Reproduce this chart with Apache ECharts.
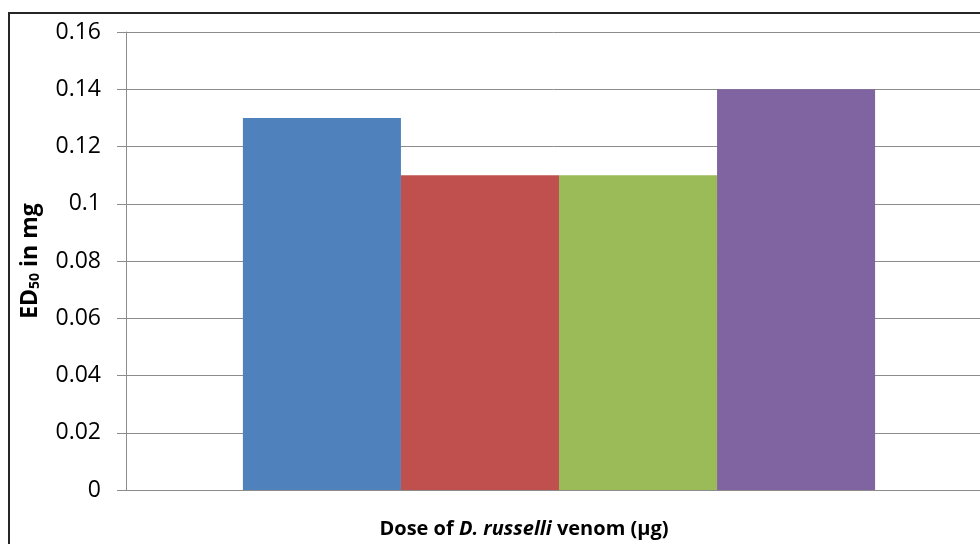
<!DOCTYPE html>
<html>
<head>
<meta charset="utf-8">
<script src="https://cdn.jsdelivr.net/npm/echarts@6/dist/echarts.min.js"></script>
<style>
  html, body { margin: 0; padding: 0; background: #fff; }
  #chart { width: 980px; height: 544px; }
</style>
</head>
<body>
<div id="chart"></div>
<script>
// ED50 values for each venom dose group
const categories = ['ED50'];
const seriesNames = ['Dose 1', 'Dose 2', 'Dose 3', 'Dose 4'];
const seriesValues = [0.13, 0.11, 0.11, 0.14];
const seriesColors = ['#4F81BD', '#C0504D', '#9BBB59', '#8064A2'];
const yTicks = { min: 0, max: 0.16, interval: 0.02 };

const font = '"Open Sans", "Noto Sans", sans-serif';
const chart = echarts.init(document.getElementById('chart'), null, { renderer: 'canvas' });

chart.setOption({
  backgroundColor: '#ffffff',
  animation: false,
  graphic: [{
    type: 'rect',
    shape: { x: 9, y: 13, width: 1000, height: 600 },
    style: { fill: 'none', stroke: '#262626', lineWidth: 2 },
    z: -1
  }],
  grid: { left: 126, top: 32, width: 866, height: 458, containLabel: false, outerBoundsMode: 'none' },
  xAxis: {
    type: 'category',
    data: categories,
    axisLabel: { show: false },
    axisTick: { show: false },
    axisLine: { lineStyle: { color: '#8c8c8c', width: 1 } },
    name: '{b|Dose of }{i|D. russelli}{b| venom (µg)}',
    nameLocation: 'middle',
    nameGap: 29,
    nameTextStyle: {
      padding: [0, 70, 0, 0],
      rich: {
        b: { fontFamily: font, fontSize: 20, fontWeight: 'bold', color: '#000' },
        i: { fontFamily: font, fontSize: 20, fontWeight: 'bold', fontStyle: 'italic', color: '#000' }
      }
    }
  },
  yAxis: {
    type: 'value',
    min: yTicks.min,
    max: yTicks.max,
    interval: yTicks.interval,
    axisLine: { show: true, lineStyle: { color: '#8c8c8c', width: 1 } },
    axisTick: { show: true, length: 9, lineStyle: { color: '#8c8c8c' } },
    axisLabel: { fontFamily: font, fontSize: 23, color: '#000', margin: 25 },
    splitLine: { lineStyle: { color: '#8c8c8c', width: 1 } },
    name: '{b|ED}{s|50}{b| in mg}',
    nameLocation: 'middle',
    nameGap: 84,
    nameRotate: 90,
    nameTextStyle: {
      rich: {
        b: { fontFamily: font, fontSize: 23, fontWeight: 'bold', color: '#000' },
        s: { fontFamily: font, fontSize: 14, fontWeight: 'bold', color: '#000', verticalAlign: 'bottom', padding: [8, 0, 0, 0] }
      }
    }
  },
  series: seriesNames.map((name, i) => ({
    name: name,
    type: 'bar',
    data: [seriesValues[i]],
    barGap: '0%',
    barCategoryGap: '27%',
    itemStyle: { color: seriesColors[i] }
  }))
});
</script>
</body>
</html>
